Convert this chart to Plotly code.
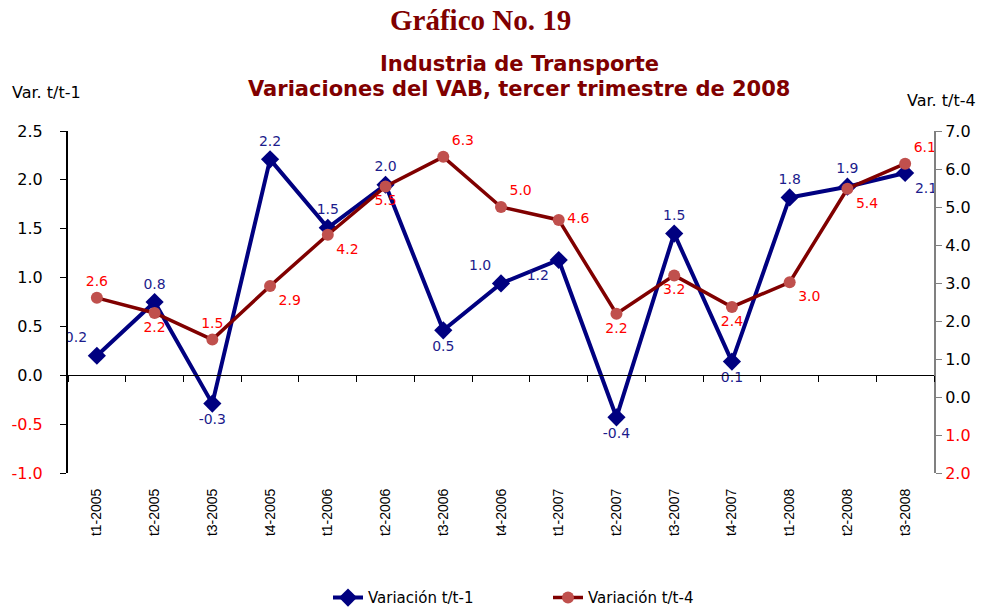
import plotly.graph_objects as go

categories = ["t1-2005", "t2-2005", "t3-2005", "t4-2005", "t1-2006", "t2-2006", "t3-2006",
              "t4-2006", "t1-2007", "t2-2007", "t3-2007", "t4-2007", "t1-2008", "t2-2008", "t3-2008"]
var_t1 = [0.20, 0.75, -0.29, 2.21, 1.51, 1.95, 0.46, 0.94, 1.18, -0.43, 1.45, 0.14, 1.82, 1.93, 2.07]
var_t1_labels = ["0.2", "0.8", "-0.3", "2.2", "1.5", "2.0", "0.5", "1.0", "1.2", "-0.4", "1.5", "0.1", "1.8", "1.9", "2.1"]
var_t4 = [2.61, 2.21, 1.51, 2.92, 4.27, 5.54, 6.32, 5.00, 4.66, 2.19, 3.20, 2.37, 3.02, 5.48, 6.14]
var_t4_labels = ["2.6", "2.2", "1.5", "2.9", "4.2", "5.5", "6.3", "5.0", "4.6", "2.2", "3.2", "2.4", "3.0", "5.4", "6.1"]

left_ticks = [-1.0, -0.5, 0.0, 0.5, 1.0, 1.5, 2.0, 2.5]
right_ticks = [-2, -1, 0, 1, 2, 3, 4, 5, 6, 7]

pos_t1 = ["top left", "top center", "bottom center", "top center", "top center", "top center",
          "bottom center", "top left", "bottom left", "bottom center", "top center",
          "bottom center", "top center", "top center", "bottom right"]
pos_t4 = ["top center", "bottom center", "top center", "bottom right", "bottom right",
          "bottom center", "top right", "top right", "middle right", "bottom center",
          "bottom center", "bottom center", "bottom right", "bottom right", "top right"]

NAVY = "#000080"
MAROON = "#800000"
SANS = "DejaVu Sans, Arial, sans-serif"

fig = go.Figure()

# invisible helper trace so the category axis drawn at y=0 gets its ticks
fig.add_trace(go.Scatter(x=categories, y=var_t1, xaxis="x2", yaxis="y", mode="lines",
                         line=dict(width=0, color="rgba(0,0,0,0)"), showlegend=False,
                         hoverinfo="skip"))

fig.add_trace(go.Scatter(
    x=categories, y=var_t1, name="Variación t/t-1", mode="lines+markers+text",
    line=dict(color=NAVY, width=4), marker=dict(symbol="diamond", size=14, color=NAVY),
    text=var_t1_labels, textposition=pos_t1,
    textfont=dict(family=SANS, size=14, color="#1c1c8c"),
    yaxis="y"))

fig.add_trace(go.Scatter(
    x=categories, y=var_t4, name="Variación t/t-4", mode="lines+markers+text",
    line=dict(color=MAROON, width=3.5), marker=dict(symbol="circle", size=12, color="#C0504D"),
    text=var_t4_labels, textposition=pos_t4,
    textfont=dict(family=SANS, size=14, color="#FF0000"),
    yaxis="y2"))

def fmt_left(v):
    s = f"{v:.1f}"
    return f"<span style='color:#FF0000'>{s}</span>" if v < 0 else s

def fmt_right(v):
    s = f"{abs(v):.1f}"
    return f"<span style='color:#FF0000'>{s}</span>" if v < 0 else s

fig.update_layout(
    width=984, height=611,
    margin=dict(l=68, r=50, t=131, b=138, autoexpand=False),
    paper_bgcolor="white", plot_bgcolor="white",
    font=dict(family=SANS, color="black"),
    showlegend=True,
    legend=dict(orientation="h", x=(328 - 68) / 866, xanchor="left", y=-0.365,
                yanchor="middle", font=dict(size=15, color="black"), entrywidth=175,
                itemwidth=30, tracegroupgap=0),
    xaxis=dict(type="category", categoryorder="array", categoryarray=categories,
               range=[-0.5, 14.5], showline=False, showgrid=False, ticks="outside",
               ticklen=9, tickcolor="rgba(0,0,0,0)",
               tickangle=-90, tickfont=dict(family="Arial, Liberation Sans", size=14,
                                            color="black"),
               zeroline=False, automargin=False),
    xaxis2=dict(type="category", categoryorder="array", categoryarray=categories,
                range=[-0.5, 14.5], overlaying="x", anchor="free",
                position=1.0 / 3.5, side="bottom", showline=True, linecolor="black",
                linewidth=1, ticks="outside", tickson="boundaries", ticklen=6,
                tickcolor="black", showticklabels=False, showgrid=False, automargin=False),
    yaxis=dict(range=[-1.0, 2.5], tickvals=left_ticks, ticktext=[fmt_left(v) for v in left_ticks],
               showline=True, linecolor="black", linewidth=2, ticks="outside", ticklen=6,
               tickcolor="black", showgrid=False, zeroline=False, automargin=False,
               ticklabelstandoff=14, tickfont=dict(size=16, color="black")),
    yaxis2=dict(range=[-2, 7], overlaying="y", side="right", tickvals=right_ticks,
                ticktext=[fmt_right(v) for v in right_ticks], showline=True,
                linecolor="#808080", linewidth=2, ticks="outside", ticklen=6,
                tickcolor="#808080", showgrid=False, zeroline=False, automargin=False,
                tickfont=dict(size=16, color="black")),
)

fig.add_annotation(text="<b>Gráfico No. 19</b>", xref="paper", yref="paper",
                   x=0.4758, y=(473 - 20) / 342, yanchor="middle", showarrow=False,
                   font=dict(family="Liberation Serif, Times New Roman", size=29, color=MAROON))
fig.add_annotation(text="<b>Industria de Transporte</b>", xref="paper", yref="paper",
                   x=0.521, y=(473 - 64) / 342, yanchor="middle", showarrow=False,
                   font=dict(family=SANS, size=21, color=MAROON))
fig.add_annotation(text="<b>Variaciones del VAB, tercer trimestre de 2008</b>", xref="paper",
                   yref="paper", x=0.521, y=(473 - 89) / 342, yanchor="middle", showarrow=False,
                   font=dict(family=SANS, size=21, color=MAROON))
fig.add_annotation(text="Var. t/t-1", xref="paper", yref="paper", x=(10 - 68) / 866,
                   y=(473 - 93) / 342, xanchor="left", yanchor="middle", showarrow=False,
                   font=dict(size=16, color="black"))
fig.add_annotation(text="Var. t/t-4", xref="paper", yref="paper", x=(905 - 68) / 866,
                   y=(473 - 100) / 342, xanchor="left", yanchor="middle", showarrow=False,
                   font=dict(size=16, color="black"))

fig.write_html("out.html", config={"displayModeBar": False},
               post_script="document.body.style.margin='0px';")
